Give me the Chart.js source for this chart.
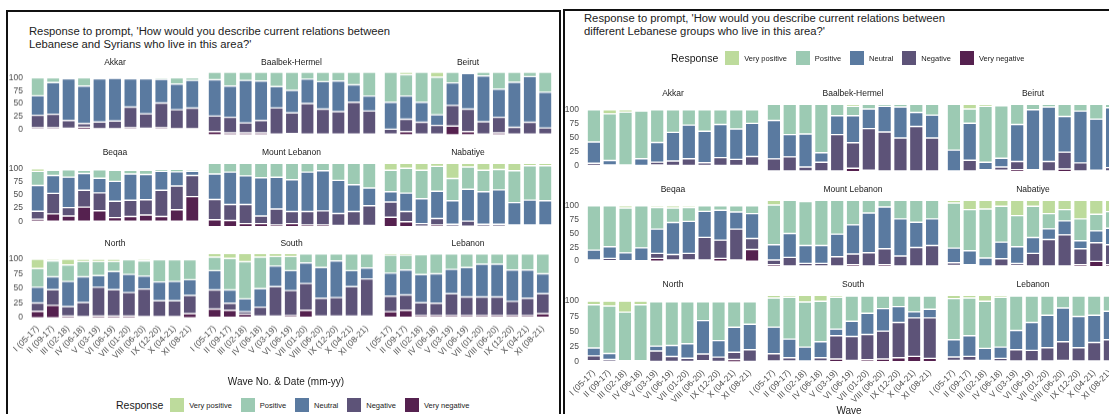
<!DOCTYPE html>
<html>
<head>
<meta charset="utf-8">
<script src="https://cdn.jsdelivr.net/npm/chart.js@4"></script>
<style>
  html, body { margin: 0; padding: 0; background: #fff; }
  body { width: 1109px; height: 414px; position: relative; overflow: hidden; font-family: "Liberation Sans", Arial, sans-serif; color: #1a1a1a; }
  .frame { position: absolute; border: 2px solid #111; box-sizing: border-box; }
  .title { position: absolute; font-size: 11.25px; line-height: 12.5px; color: #222; white-space: nowrap; }
  .strip { position: absolute; font-size: 8.5px; color: #1a1a1a; text-align: center; transform: translate(-50%, -50%); white-space: nowrap; }
  .axtitle { position: absolute; font-size: 10px; color: #1a1a1a; transform: translate(-50%, -50%); white-space: nowrap; }
  .legend { position: absolute; display: flex; align-items: center; transform: translateY(-50%); white-space: nowrap; }
  .legend .head { font-size: 10.5px; margin-right: 7px; }
  .legend .box { width: 14px; height: 14px; margin-right: 5px; }
  .legend .lab { font-size: 7.5px; margin-right: 9px; color: #1a1a1a; }
  canvas { position: absolute; }
</style>
</head>
<body>
<script>
// wave labels
const waves = ['I (05-17)', 'II (09-17)', 'III (02-18)', 'IV (06-18)', 'V (03-19)', 'VI (06-19)',
  'VII (01-20)', 'VIII (06-20)', 'IX (12-20)', 'X (04-21)', 'XI (08-21)'];
const regions = ['Akkar', 'Baalbek-Hermel', 'Beirut', 'Beqaa', 'Mount Lebanon', 'Nabatiye', 'North', 'South', 'Lebanon'];
// stacking order, bottom to top
const responses = ['Very negative', 'Negative', 'Neutral', 'Positive', 'Very positive'];
const yTicks = [0, 25, 50, 75, 100];

// percent per wave: [very negative, negative, neutral, positive, very positive]
// Lebanese and Syrians
const syrAkkar = [[3,24,38,35,0],[3,26,62,9,0],[2,15,81,2,0],[4,7,73,16,0],[1,13,84,2,0],[1,15,83,1,0],[3,40,55,2,0],[2,28,68,2,0],[3,48,46,3,0],[1,37,50,12,0],[1,40,54,5,0]];
const syrBaalbek = [[5,25,58,12,0],[3,25,50,22,0],[3,16,68,13,0],[3,20,63,14,0],[1,42,34,23,0],[2,33,36,29,0],[1,49,39,11,0],[1,40,44,15,0],[1,36,49,14,0],[1,51,28,20,0],[1,37,24,38,0]];
const syrBeirut = [[1,8,43,48,0],[5,20,37,34,4],[1,19,32,48,0],[1,14,17,60,8],[14,33,36,17,0],[5,36,57,2,0],[1,20,73,6,0],[3,25,45,27,0],[1,11,72,16,0],[1,19,73,7,0],[1,10,57,32,0]];
const syrBeqaa = [[4,15,49,27,5],[14,39,34,10,3],[10,16,58,14,2],[27,32,32,6,3],[20,34,28,16,2],[7,31,38,21,3],[9,31,50,7,3],[12,29,48,8,3],[9,50,36,4,1],[22,45,27,5,1],[47,40,8,3,2]];
const syrMountLebanon = [[11,32,40,17,0],[10,25,51,14,0],[5,30,45,20,0],[5,12,60,23,0],[3,25,50,22,0],[5,19,50,26,0],[3,21,62,14,0],[3,22,63,12,0],[2,19,52,27,0],[2,22,42,34,0],[2,31,28,39,0]];
const syrNabatiye = [[15,24,16,34,11],[8,16,29,39,8],[1,4,39,45,11],[3,10,43,39,5],[1,3,37,35,24],[1,8,50,35,6],[1,3,51,34,11],[1,3,54,32,10],[1,2,35,50,12],[1,2,39,54,4],[1,2,38,55,4]];
const syrNorth = [[11,14,27,32,16],[21,27,22,27,3],[3,16,43,28,10],[2,24,44,26,4],[3,49,20,24,4],[3,45,31,17,4],[3,40,31,25,1],[2,47,22,26,3],[2,27,32,38,1],[2,27,33,37,1],[7,31,27,34,1]];
const syrSouth = [[13,30,30,21,6],[11,11,21,49,8],[5,4,20,58,13],[2,14,29,49,6],[2,46,32,15,5],[3,39,31,22,5],[11,42,32,14,1],[2,28,48,21,1],[2,29,57,11,1],[2,46,25,26,1],[2,58,17,22,1]];
const syrLebanon = [[9,24,36,28,3],[11,24,39,23,3],[3,20,44,31,2],[3,19,46,31,1],[3,34,38,24,1],[3,29,46,21,1],[3,29,51,16,1],[3,29,51,16,1],[3,22,49,25,1],[3,27,44,25,1],[6,31,31,31,1]];

// different Lebanese groups
const lebAkkar = [[1,4,38,57,0],[1,1,8,83,7],[0,1,1,94,4],[0,1,12,85,2],[2,5,35,58,0],[1,8,51,40,0],[1,12,60,27,0],[1,5,56,38,0],[1,14,59,26,0],[1,11,54,34,0],[1,16,59,24,0]];
const lebBaalbek = [[1,18,57,24,0],[1,21,33,45,0],[1,6,49,44,0],[1,13,14,72,0],[1,54,28,17,0],[5,38,40,14,3],[2,62,29,7,0],[1,58,38,3,0],[1,49,46,4,0],[1,66,21,12,0],[1,49,34,16,0]];
const lebBeirut = [[0,1,31,68,0],[1,16,55,21,7],[1,2,11,83,3],[2,5,13,78,2],[3,12,55,30,0],[1,2,89,8,0],[1,14,81,4,0],[4,25,53,18,0],[1,12,77,10,0],[1,1,76,22,0],[1,5,89,5,0]];
const lebBeqaa = [[1,1,18,80,0],[1,4,21,74,0],[0,1,14,81,4],[0,1,23,76,0],[5,9,44,39,3],[2,10,58,26,4],[2,12,58,25,3],[2,41,47,10,0],[5,33,54,8,0],[2,56,31,11,0],[21,20,45,14,0]];
const lebMountLebanon = [[3,7,23,60,7],[1,13,36,50,0],[1,4,27,66,2],[1,4,27,68,0],[1,14,34,51,0],[3,16,44,37,0],[1,20,60,19,0],[3,24,63,10,0],[1,15,56,28,0],[1,28,38,33,0],[1,31,40,28,0]];
const lebNabatiye = [[2,4,22,68,4],[1,2,21,62,14],[0,1,12,74,13],[1,11,25,54,9],[2,3,25,47,23],[1,19,24,47,9],[1,40,16,23,20],[1,47,21,17,14],[3,24,12,33,28],[8,28,18,25,21],[3,30,25,25,17]];
const lebNorth = [[2,8,13,71,6],[1,3,10,78,8],[0,1,1,80,18],[0,1,1,92,6],[1,17,8,73,1],[1,8,18,72,1],[1,5,24,69,1],[2,11,55,31,1],[1,7,27,64,1],[4,12,41,42,1],[1,19,42,37,1]];
const lebSouth = [[1,11,40,44,4],[1,5,28,63,3],[0,1,21,68,10],[1,5,24,61,9],[4,35,10,48,3],[2,36,23,38,1],[3,38,32,26,1],[4,42,34,19,1],[6,53,24,16,1],[8,58,9,24,1],[5,61,13,20,1]];
const lebLebanon = [[2,5,26,62,5],[2,6,31,57,4],[1,1,18,71,9],[1,4,17,75,3],[1,17,29,52,1],[1,16,42,40,1],[1,20,49,29,1],[2,28,51,18,1],[1,20,47,31,1],[1,28,41,29,1],[1,32,43,23,1]];

const colors = ['#55214f', '#5d5378', '#5a7aa0', '#9ccab3', '#bddb9c'];

const panels = [
  {
    facets: [syrAkkar, syrBaalbek, syrBeirut, syrBeqaa, syrMountLebanon, syrNabatiye, syrNorth, syrSouth, syrLebanon],
    frame: [6, 10], title: ['Response to prompt, \'How would you describe current relations between', 'Lebanese and Syrians who live in this area?\''],
    titlePos: [29, 25], cols: [30, 206.5, 383], colW: 170,
    rows: [[72.5, 135], [163.3, 227], [253.7, 318]],
    axisTitle: ['Wave No. & Date (mm-yy)', 286, 381], legend: [116, 405]
  },
  {
    facets: [lebAkkar, lebBaalbek, lebBeirut, lebBeqaa, lebMountLebanon, lebNabatiye, lebNorth, lebSouth, lebLebanon],
    frame: [563, 9], title: ['Response to prompt, \'How would you describe current relations between', 'different Lebanese groups who live in this area?\''],
    titlePos: [584, 12], cols: [586, 766, 946], colW: 174,
    rows: [[104, 172], [200, 267], [295, 362]],
    axisTitle: ['Wave', 849, 410], legend: [671, 58]
  }
];

const AXW = 30, PT = 6, PB = 6, XH = 44;
const tickFont = { family: '"Liberation Sans", Arial, sans-serif', size: 8.5 };

function addDiv(cls, text, x, y) {
  const d = document.createElement('div');
  d.className = cls;
  d.textContent = text;
  d.style.left = x + 'px';
  d.style.top = y + 'px';
  document.body.appendChild(d);
  return d;
}

function addLegend(x, y) {
  const lg = document.createElement('div');
  lg.className = 'legend';
  lg.style.left = x + 'px';
  lg.style.top = y + 'px';
  lg.innerHTML = '<span class="head">Response</span>';
  for (let k = responses.length - 1; k >= 0; k--) {
    lg.innerHTML += '<span class="box" style="background:' + colors[k] + '"></span><span class="lab">' + responses[k] + '</span>';
  }
  document.body.appendChild(lg);
}

function drawFacet(bars, left, top, w, h, leftCol, bottomRow) {
  const cv = document.createElement('canvas');
  cv.width = w; cv.height = h;
  cv.style.left = left + 'px'; cv.style.top = top + 'px';
  cv.style.width = w + 'px'; cv.style.height = h + 'px';
  document.body.appendChild(cv);

  new Chart(cv, {
    type: 'bar',
    data: {
      labels: waves,
      datasets: responses.map((name, k) => ({
        label: name,
        data: bars.map(b => b[k]),
        backgroundColor: colors[k],
        borderColor: '#ffffff',
        borderWidth: 0.7,
        borderSkipped: false,
        barPercentage: 0.86,
        categoryPercentage: 1
      }))
    },
    options: {
      responsive: false,
      animation: false,
      devicePixelRatio: 1,
      layout: { padding: { left: leftCol ? 0 : AXW, right: 0, top: PT, bottom: bottomRow ? 0 : PB } },
      plugins: { legend: { display: false }, tooltip: { enabled: false } },
      scales: {
        x: {
          stacked: true,
          display: bottomRow,
          grid: { display: false, drawTicks: false },
          border: { display: false },
          ticks: { autoSkip: false, minRotation: 45, maxRotation: 45, padding: 3, font: tickFont, color: '#4d4d4d' },
          afterFit: s => { if (bottomRow) s.height = XH; }
        },
        y: {
          stacked: true,
          display: leftCol,
          min: -5, max: 105,
          afterBuildTicks: s => { s.ticks = yTicks.map(v => ({ value: v })); },
          afterFit: s => { if (leftCol) s.width = AXW; },
          grid: { display: false, drawTicks: false },
          border: { display: false },
          ticks: { padding: 7, font: tickFont, color: '#4d4d4d' }
        }
      }
    }
  });
}

panels.forEach(p => {
  const fr = document.createElement('div');
  fr.className = 'frame';
  fr.style.left = p.frame[0] + 'px';
  fr.style.top = p.frame[1] + 'px';
  fr.style.width = (p === panels[0] ? 555 : 560) + 'px';
  fr.style.height = '420px';
  document.body.appendChild(fr);

  const t = addDiv('title', '', p.titlePos[0], p.titlePos[1]);
  t.innerHTML = p.title[0] + '<br>' + p.title[1];

  p.facets.forEach((bars, i) => {
    const r = Math.floor(i / 3), c = i % 3;
    const [y100, y0] = p.rows[r];
    const u = (y0 - y100) / 100;
    const areaTop = y100 - 5 * u;
    const areaH = 110 * u;
    const bottomRow = r === 2;
    drawFacet(bars, p.cols[c] - AXW, areaTop - PT, AXW + p.colW,
      PT + areaH + (bottomRow ? XH : PB), c === 0, bottomRow);
    addDiv('strip', regions[i], p.cols[c] + p.colW / 2, y100 - 11);
  });

  addDiv('axtitle', p.axisTitle[0], p.axisTitle[1], p.axisTitle[2]);
  addLegend(p.legend[0], p.legend[1]);
});
</script>
</body>
</html>
